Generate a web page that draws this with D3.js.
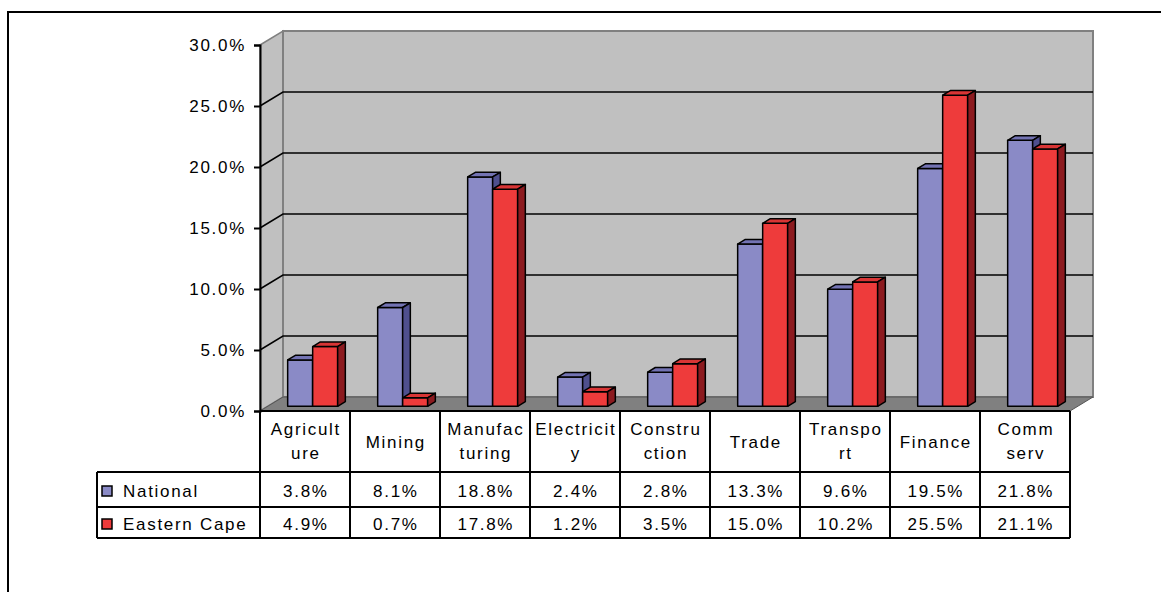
<!DOCTYPE html>
<html>
<head>
<meta charset="utf-8">
<script src="https://cdn.jsdelivr.net/npm/d3@7"></script>
<style>
  html, body { margin: 0; padding: 0; background: #fff; }
  svg { display: block; font-family: "Liberation Sans", Arial, sans-serif; }
</style>
</head>
<body>
<svg id="chart" width="1161" height="592"></svg>
<script>
// Sector shares of output, National vs Eastern Cape
const categories = ["Agriculture", "Mining", "Manufacturing", "Electricity", "Construction",
                    "Trade", "Transport", "Finance", "Comm serv"];
const categoryLines = [["Agricult", "ure"], ["Mining"], ["Manufac", "turing"], ["Electricit", "y"],
                       ["Constru", "ction"], ["Trade"], ["Transpo", "rt"], ["Finance"], ["Comm", "serv"]];
const seriesNames = ["National", "Eastern Cape"];
const national    = [3.8, 8.1, 18.8, 2.4, 2.8, 13.3, 9.6, 19.5, 21.8];
const easternCape = [4.9, 0.7, 17.8, 1.2, 3.5, 15.0, 10.2, 25.5, 21.1];
const yTicks = [0, 5, 10, 15, 20, 25, 30];

const seriesValues = [national, easternCape];
const faceColors = ["#8a8ac6", "#ee3b3b"];
const topColors  = ["#7373b3", "#d83535"];
const sideColors = ["#4f4f8e", "#8c1a1f"];

const svg = d3.select("#chart");
const LS = 1.7; // letter spacing used for all labels

// Layout
const left = 260, right = 1070, yBottom = 411, yTop = 45;
const depthX = 23, depthY = -14;          // wall depth offset
const barDX = depthX / 3, barDY = depthY / 3; // bars sit in the middle third of the depth

const x = d3.scaleBand().domain(categories).range([left, right])
  .paddingInner(40 / 90).paddingOuter(20 / 90);
const xs = d3.scaleBand().domain(seriesNames).range([0, x.bandwidth()]);
const y = d3.scaleLinear().domain([0, 30]).range([yBottom, yTop]);
const fmt = d => d.toFixed(1) + "%";

// Outer frame
svg.append("path").attr("d", `M8,600 L8,12 L1170,12`)
  .attr("fill", "none").attr("stroke", "#000").attr("stroke-width", 2);

// Walls and floor
const wallStroke = "#808080";
svg.append("polygon")
  .attr("points", [[left, y(30)], [left + depthX, y(30) + depthY], [left + depthX, y(0) + depthY], [left, y(0)]].join(" "))
  .attr("fill", "#c0c0c0").attr("stroke", wallStroke).attr("stroke-width", 1.5);
svg.append("rect")
  .attr("x", left + depthX).attr("y", y(30) + depthY)
  .attr("width", right - left).attr("height", y(0) - y(30))
  .attr("fill", "#c0c0c0").attr("stroke", wallStroke).attr("stroke-width", 2);
svg.append("polygon")
  .attr("points", [[left, y(0)], [right, y(0)], [right + depthX, y(0) + depthY], [left + depthX, y(0) + depthY]].join(" "))
  .attr("fill", "#808080").attr("stroke", "#555").attr("stroke-width", 1);

// Gridlines on side and back walls
const grid = yTicks.filter(t => t > 0 && t < 30);
svg.append("g").selectAll("path").data(grid).join("path")
  .attr("d", t => `M${left},${y(t)} L${left + depthX},${y(t) + depthY} L${right + depthX},${y(t) + depthY}`)
  .attr("fill", "none").attr("stroke", "#000").attr("stroke-width", 1.5);

// Y axis
const yAxis = svg.append("g").attr("transform", `translate(${left},0)`)
  .call(d3.axisLeft(y).tickValues(yTicks).tickFormat(fmt).tickSize(6).tickPadding(8));
yAxis.select(".domain").attr("stroke", "#000").attr("stroke-width", 2);
yAxis.selectAll(".tick line").attr("stroke", "#000").attr("stroke-width", 2);
yAxis.selectAll(".tick text").attr("font-size", 17).attr("fill", "#000")
  .attr("letter-spacing", LS + "px")
  .attr("font-family", "'Liberation Sans', Arial, sans-serif");

// 3D bars
const bars = svg.append("g");
categories.forEach((c, i) => {
  seriesNames.forEach((s, j) => {
    const v = seriesValues[j][i];
    const x0 = x(c) + xs(s) + barDX;
    const w = xs.bandwidth();
    const yb = y(0) + barDY;
    const yt = y(v) + barDY;
    const g = bars.append("g").attr("stroke", "#000").attr("stroke-width", 1.5).attr("stroke-linejoin", "round");
    g.append("rect").attr("x", x0).attr("y", yt).attr("width", w).attr("height", yb - yt)
      .attr("fill", faceColors[j]);
    g.append("polygon")
      .attr("points", [[x0, yt], [x0 + w, yt], [x0 + w + barDX, yt + barDY], [x0 + barDX, yt + barDY]].join(" "))
      .attr("fill", topColors[j]);
    g.append("polygon")
      .attr("points", [[x0 + w, yt], [x0 + w + barDX, yt + barDY], [x0 + w + barDX, yb + barDY], [x0 + w, yb]].join(" "))
      .attr("fill", sideColors[j]);
  });
});

// Data table
const rowTop = yBottom, headerBottom = 472, row1Bottom = 507, row2Bottom = 538, legendLeft = 97;
const table = svg.append("g").attr("stroke", "#000").attr("stroke-width", 2).attr("fill", "none");
table.append("line").attr("x1", left).attr("x2", right).attr("y1", rowTop).attr("y2", rowTop);
[headerBottom, row1Bottom, row2Bottom].forEach(yy =>
  table.append("line").attr("x1", legendLeft).attr("x2", right).attr("y1", yy).attr("y2", yy));
table.append("line").attr("x1", legendLeft).attr("x2", legendLeft).attr("y1", headerBottom).attr("y2", row2Bottom);
const colEdges = categories.map(c => x(c) - x.step() * x.paddingOuter()).concat([right]);
table.selectAll("line.col").data(colEdges).join("line").attr("class", "col")
  .attr("x1", d => d).attr("x2", d => d).attr("y1", rowTop).attr("y2", row2Bottom);

const txt = svg.append("g").attr("fill", "#000").attr("font-size", 17).attr("letter-spacing", LS + "px");

// Category headers
categories.forEach((c, i) => {
  const cx = x(c) + x.bandwidth() / 2 + LS / 2;
  const lines = categoryLines[i];
  const base = lines.length === 1 ? [448] : [435, 459];
  lines.forEach((ln, k) => {
    txt.append("text").attr("x", cx).attr("y", base[k]).attr("text-anchor", "middle").text(ln);
  });
});

// Values rows
const rowBase = [497, 530];
seriesNames.forEach((s, j) => {
  txt.append("g").selectAll("text").data(seriesValues[j]).join("text")
    .attr("x", (d, i) => x(categories[i]) + x.bandwidth() / 2 + LS / 2)
    .attr("y", rowBase[j]).attr("text-anchor", "middle").text(d => fmt(d));
  // legend key
  svg.append("rect").attr("x", 102).attr("y", rowBase[j] - 11).attr("width", 10).attr("height", 10)
    .attr("fill", faceColors[j]).attr("stroke", "#000").attr("stroke-width", 1.5);
  txt.append("text").attr("x", 123).attr("y", rowBase[j]).text(s);
});
</script>
</body>
</html>
